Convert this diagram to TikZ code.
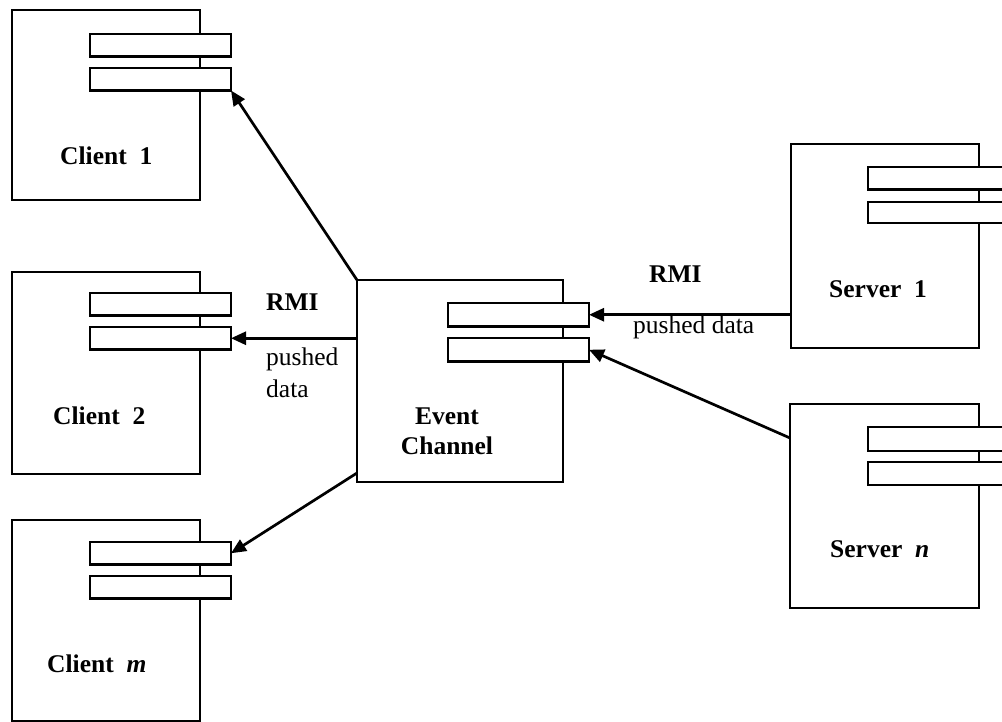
\documentclass[tikz,border=0pt]{standalone}
\usepackage{fontspec}
\setmainfont{Liberation Serif}
\usetikzlibrary{arrows.meta}
\begin{document}
\begin{tikzpicture}[x=1pt,y=-1pt,
  comp/.style={draw,line width=2.7pt,inner sep=0,outer sep=0,anchor=north west,minimum width=188pt},
  port/.style={draw,fill=white,line width=2.7pt,inner sep=0,outer sep=0,anchor=north west,minimum width=141pt,minimum height=22.5pt},
  lbl/.style={font=\fontsize{25.5}{30}\selectfont\bfseries,inner sep=0,anchor=base west},
  txt/.style={font=\fontsize{25.5}{32}\selectfont,inner sep=0},
  arr/.style={line width=2.7pt,-{Triangle[length=15pt,width=13pt]}}]
\clip (0,0) rectangle (1002,722);
% clients
\node[comp,minimum height=190pt] (c1) at (12,10) {};
\node[port] (c1p1) at (90,34) {};
\node[port] (c1p2) at (90,68) {};
\node[lbl] (c1l) at (60,165) {Client~~1};
\node[comp,minimum height=202pt] (c2) at (12,272) {};
\node[port] (c2p1) at (90,293) {};
\node[port] (c2p2) at (90,327) {};
\node[lbl] (c2l) at (53,424) {Client~~2};
\node[comp,minimum height=201pt] (cm) at (12,520) {};
\node[port] (cmp1) at (90,542) {};
\node[port] (cmp2) at (90,576) {};
\node[lbl] (cml) at (47,672) {Client~~\textit{m}};
% event channel
\node[comp,minimum width=206pt,minimum height=202pt] (ec) at (357,280) {};
\node[port,minimum height=23.5pt] (ecp1) at (448,303) {};
\node[port,minimum height=23.5pt] (ecp2) at (448,338) {};
\node[lbl,anchor=north,align=center,font=\fontsize{25.5}{30}\selectfont\bfseries] (ecl) at (447,407.5) {Event\\Channel};
% servers
\node[comp,minimum height=204pt] (s1) at (791,144) {};
\node[port] (s1p1) at (868,167) {};
\node[port,minimum height=21pt] (s1p2) at (868,202) {};
\node[lbl] (s1l) at (829,298) {Server~~1};
\node[comp,minimum width=189pt,minimum height=204pt] (sn) at (790,404) {};
\node[port,minimum height=24pt] (snp1) at (868,427) {};
\node[port,minimum height=23pt] (snp2) at (868,462) {};
\node[lbl] (snl) at (830,557) {Server~~\textit{n}};
% connectors
\coordinate (ecm) at (357,473);
\coordinate (snw) at (790,438);
\draw[arr] (ec.north west) -- (c1p2.south east);
\draw[arr] (c2p2.east -| ec.west) -- (c2p2.east);
\draw[arr] (ecm) -- (cmp1.east);
\draw[arr] (s1.west |- ecp1.east) -- (ecp1.east);
\draw[arr] (snw) -- (ecp2.east);
% labels
\node[lbl] (rmi1) at (266,310) {RMI};
\node[txt,anchor=north west,align=left] (pd1) at (266,348) {pushed\\data};
\node[lbl] (rmi2) at (649,283) {RMI};
\node[txt,anchor=base west] (pd2) at (633,334) {pushed data};
\end{tikzpicture}
\end{document}
